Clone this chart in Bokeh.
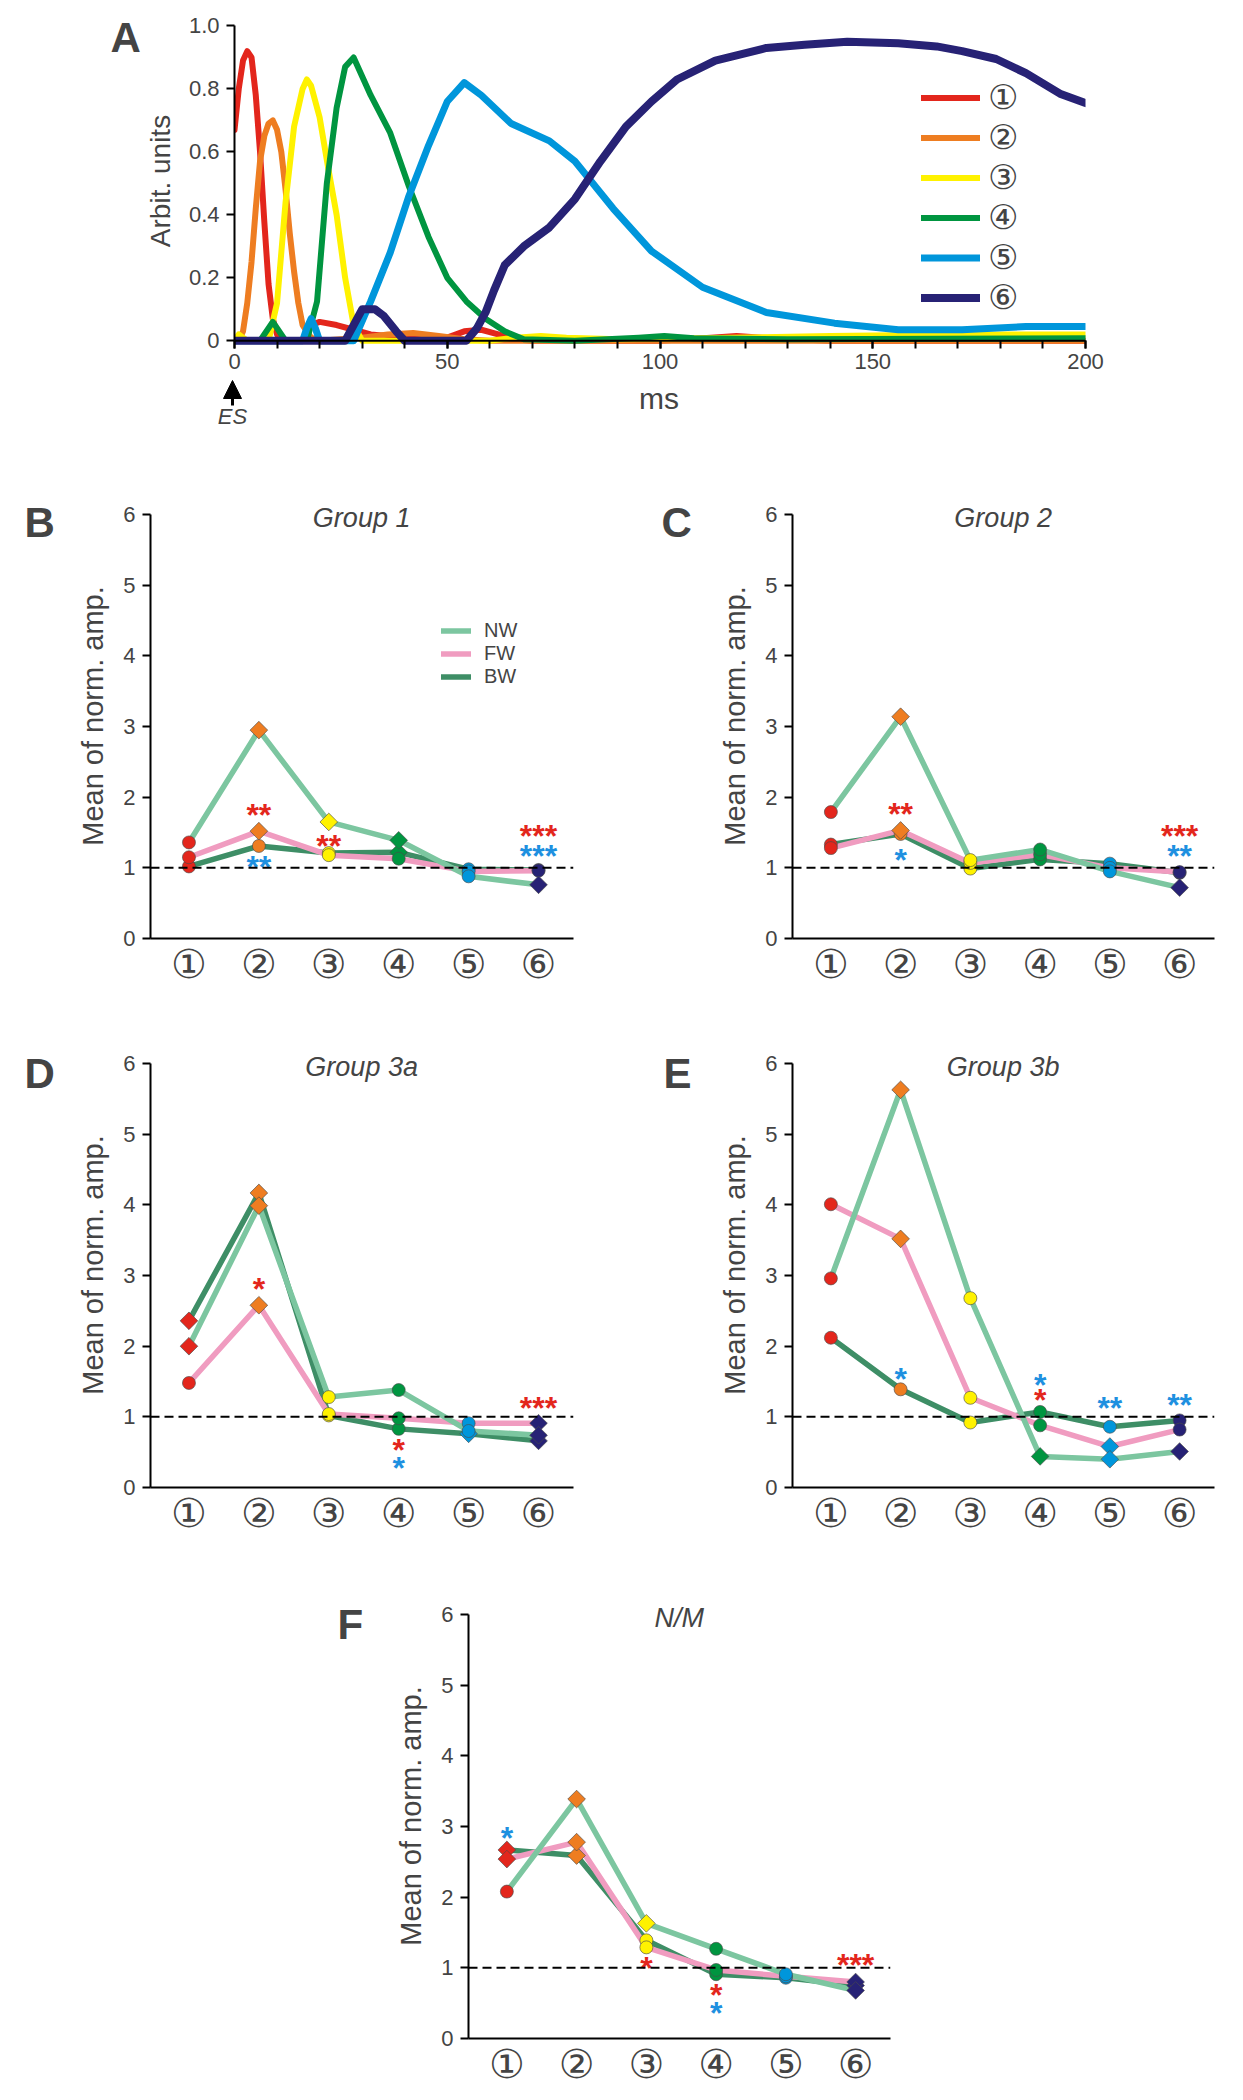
import numpy as np
from bokeh.plotting import figure
from bokeh.layouts import column, row
from bokeh.models import (Range1d, FixedTicker, Span, Label, Legend, LegendItem,
                          Arrow, NormalHead, ColumnDataSource)
from bokeh.embed import file_html
from bokeh.resources import INLINE
from bokeh.core.properties import value

FONT = "Liberation Sans"
CIRC_FONT = "DejaVu Sans"

# ---------------- Panel A: component time courses ----------------
comp_labels = ["①", "②", "③", "④", "⑤", "⑥"]
comp_colors = ["#E3261C", "#EE7D21", "#FFF200", "#009540", "#0096DB", "#272275"]
comp_widths = [6, 6, 6, 6, 7, 8]

t1 = [0, 1, 2, 3, 4, 5, 6, 7, 8, 9, 10, 12, 16, 18, 20, 24, 28, 32, 36, 40, 45, 50,
      54, 58, 62, 66, 70, 80, 100, 112, 118, 124, 140, 200]
v1 = [0.67, 0.80, 0.89, 0.92, 0.90, 0.78, 0.60, 0.38, 0.18, 0.07, 0.02, 0.0, 0.0, 0.05,
      0.06, 0.05, 0.035, 0.02, 0.015, 0.01, 0.005, 0.01, 0.03, 0.035, 0.02, 0.005, 0.0,
      0.0, 0.0, 0.01, 0.015, 0.01, 0.0, 0.0]

t2 = [0, 1, 2, 3, 4, 5, 6, 7, 8, 9, 10, 11, 12, 13, 14, 15, 16, 18, 20, 30, 36, 42,
      48, 54, 60, 200]
v2 = [0, 0, 0.03, 0.12, 0.25, 0.42, 0.57, 0.65, 0.69, 0.70, 0.67, 0.60, 0.48, 0.34,
      0.22, 0.12, 0.05, 0.01, 0, 0.01, 0.02, 0.025, 0.015, 0.005, 0, 0]

t3 = [0, 1, 2, 3, 8, 10, 12, 14, 16, 17, 18, 20, 22, 24, 26, 28, 30, 60, 66, 72, 78,
      90, 110, 140, 170, 200]
v3 = [0, 0.02, 0.01, 0, 0, 0.12, 0.44, 0.68, 0.80, 0.83, 0.81, 0.71, 0.55, 0.40, 0.20,
      0.05, 0, 0, 0.01, 0.015, 0.01, 0.005, 0.008, 0.015, 0.02, 0.02]

t4 = [0, 6, 8, 9, 10, 12, 17, 19.4, 21.7, 24, 26, 28, 32, 36.6, 41, 45.6, 50, 54.5,
      59, 63.5, 68, 80, 95, 101, 108, 130, 200]
v4 = [0, 0, 0.04, 0.06, 0.04, 0, 0, 0.125, 0.50, 0.74, 0.87, 0.90, 0.78, 0.66, 0.49,
      0.33, 0.20, 0.125, 0.07, 0.03, 0.005, 0, 0.01, 0.015, 0.008, 0.005, 0.008]

t5 = [0, 16, 17, 18, 19, 20, 28, 32, 36.6, 41, 45.6, 50, 54, 58, 65, 74, 80, 89, 98,
      110, 125, 141, 156, 171, 186, 200]
v5 = [0, 0, 0.04, 0.07, 0.04, 0, 0, 0.125, 0.28, 0.46, 0.62, 0.76, 0.82, 0.78, 0.69,
      0.635, 0.57, 0.42, 0.285, 0.17, 0.09, 0.056, 0.035, 0.035, 0.045, 0.045]

t6 = [0, 26, 28, 30, 33, 35, 38, 40, 54.5, 57, 59, 61, 63.5, 68, 74, 80, 86, 92, 98,
      104, 113, 125, 134, 144, 156, 165, 171, 179, 186, 194, 200]
v6 = [0, 0, 0.05, 0.10, 0.10, 0.08, 0.03, 0, 0, 0.04, 0.09, 0.16, 0.24, 0.30, 0.36,
      0.45, 0.57, 0.68, 0.76, 0.83, 0.89, 0.93, 0.94, 0.95, 0.945, 0.935, 0.92, 0.895,
      0.85, 0.785, 0.755]

a_xticks = [0, 50, 100, 150, 200]
a_minor = list(range(0, 201, 10))
a_yticks = [0, 0.2, 0.4, 0.6, 0.8, 1.0]
a_ylabels = {0: "0", 1: "1.0"}
stim_time = 0  # electrical stimulation onset (ms)

# ---------------- Panels B-F: mean normalised amplitude ----------------
categories = [1, 2, 3, 4, 5, 6]
series_names = ["NW", "FW", "BW"]
series_colors = {"NW": "#7CC6A0", "FW": "#F09CC0", "BW": "#3E8E66"}
yticks = [0, 1, 2, 3, 4, 5, 6]

# marker shapes: "o" circle, "d" diamond
g1_nw = [1.36, 2.95, 1.65, 1.39, 0.88, 0.76]; g1_nw_mk = ["o", "d", "d", "d", "o", "d"]
g1_fw = [1.15, 1.52, 1.18, 1.13, 0.95, 0.96]; g1_fw_mk = ["o", "d", "o", "o", "o", "o"]
g1_bw = [1.02, 1.31, 1.21, 1.22, 0.98, 0.97]; g1_bw_mk = ["o", "o", "o", "d", "o", "o"]
g1_star_cat = [2, 2, 3, 6, 6]
g1_star_y = [1.83, 1.10, 1.39, 1.54, 1.26]
g1_star_txt = ["**", "**", "**", "***", "***"]
g1_star_col = ["r", "b", "r", "r", "b"]

g2_nw = [1.79, 3.14, 1.11, 1.26, 0.95, 0.72]; g2_nw_mk = ["o", "d", "o", "o", "o", "d"]
g2_fw = [1.28, 1.53, 1.07, 1.19, 1.00, 0.94]; g2_fw_mk = ["o", "d", "o", "o", "o", "o"]
g2_bw = [1.33, 1.48, 0.99, 1.12, 1.06, 0.93]; g2_bw_mk = ["o", "o", "o", "o", "o", "o"]
g2_star_cat = [2, 2, 6, 6]
g2_star_y = [1.85, 1.20, 1.54, 1.25]
g2_star_txt = ["**", "*", "***", "**"]
g2_star_col = ["r", "b", "r", "b"]

g3a_nw = [2.00, 3.99, 1.28, 1.38, 0.80, 0.74]; g3a_nw_mk = ["d", "d", "o", "o", "o", "d"]
g3a_fw = [1.48, 2.58, 1.04, 0.98, 0.91, 0.91]; g3a_fw_mk = ["o", "d", "o", "o", "o", "d"]
g3a_bw = [2.36, 4.17, 1.02, 0.83, 0.76, 0.66]; g3a_bw_mk = ["d", "d", "o", "o", "d", "d"]
g3a_star_cat = [2, 4, 4, 6]
g3a_star_y = [2.89, 0.61, 0.36, 1.21]
g3a_star_txt = ["*", "*", "*", "***"]
g3a_star_col = ["r", "r", "b", "r"]

g3b_nw = [2.96, 5.63, 2.68, 0.44, 0.40, 0.51]; g3b_nw_mk = ["o", "d", "o", "d", "d", "d"]
g3b_fw = [4.01, 3.52, 1.27, 0.88, 0.58, 0.82]; g3b_fw_mk = ["o", "d", "o", "o", "d", "o"]
g3b_bw = [2.12, 1.39, 0.92, 1.07, 0.86, 0.95]; g3b_bw_mk = ["o", "o", "o", "o", "o", "o"]
g3b_star_cat = [2, 4, 4, 5, 6]
g3b_star_y = [1.62, 1.53, 1.32, 1.21, 1.26]
g3b_star_txt = ["*", "*", "*", "**", "**"]
g3b_star_col = ["b", "b", "r", "b", "b"]

nm_nw = [2.08, 3.39, 1.63, 1.27, 0.91, 0.68]; nm_nw_mk = ["o", "d", "d", "o", "o", "d"]
nm_fw = [2.54, 2.78, 1.29, 0.97, 0.88, 0.80]; nm_fw_mk = ["d", "d", "o", "o", "o", "d"]
nm_bw = [2.67, 2.59, 1.39, 0.91, 0.86, 0.75]; nm_bw_mk = ["d", "d", "o", "o", "o", "d"]
nm_star_cat = [1, 3, 4, 4, 6]
nm_star_y = [2.92, 1.08, 0.70, 0.44, 1.13]
nm_star_txt = ["*", "*", "*", "*", "***"]
nm_star_col = ["b", "r", "r", "b", "r"]

star_colors = {"r": "#E3261C", "b": "#1E90E0"}

# ---------------- page geometry (pixels) ----------------
PAGE_W = 1243
A_LETTER_W = 141            # strip holding the panel letter "A"
A_LEFT, A_RIGHT = 91, 158   # borders around the panel-A frame
A_TOP, A_BOTTOM = 16, 33
A_H = 378                   # height of the panel-A plot
STRIP_H = 72                # stimulus marker / x-label strip under panel A
A_FRAME_W = PAGE_W - A_LETTER_W - A_LEFT - A_RIGHT
A_X0 = A_LETTER_W + A_LEFT  # page x of t = 0 ms
PX_PER_MS = A_FRAME_W / 200.0
A_YR = (-0.015, 1.03)

PANEL_H = 550
CAT_RANGE = (0.45, 6.5)
Y_RANGE = (0, 6.3)


def style_common(p):
    p.outline_line_color = None
    p.grid.visible = False
    p.background_fill_color = "white"
    p.border_fill_color = "white"


def letter_fig(letter, width, height, xr, yr, x, y, top, bottom):
    p = figure(width=width, height=height, x_range=Range1d(*xr), y_range=Range1d(*yr),
               x_axis_type=None, y_axis_type=None, output_backend="svg", toolbar_location=None,
               min_border_left=0, min_border_right=0, min_border_top=top, min_border_bottom=bottom)
    style_common(p)
    p.add_layout(Label(x=x, y=y, text=letter, text_align="left", text_baseline="middle",
                       text_font=FONT, text_font_size="42px", text_font_style="bold"))
    return p


def build_panel_a():
    p = figure(width=PAGE_W - A_LETTER_W, height=A_H,
               x_range=Range1d(0, 200), y_range=Range1d(*A_YR),
               output_backend="svg", toolbar_location=None,
               min_border_left=A_LEFT, min_border_right=A_RIGHT,
               min_border_top=A_TOP, min_border_bottom=A_BOTTOM)
    style_common(p)
    rs = []
    for t, v, c, w in zip([t1, t2, t3, t4, t5, t6], [v1, v2, v3, v4, v5, v6], comp_colors, comp_widths):
        rs.append(p.line(t, v, line_color=c, line_width=w, line_cap="round", line_join="round"))

    # baseline at zero
    p.add_layout(Span(location=0, dimension="width", line_color="black", line_width=2))

    xa = p.xaxis[0]
    xa.ticker = FixedTicker(ticks=a_xticks, minor_ticks=a_minor)
    xa.axis_line_color = None
    xa.major_tick_line_width = 2
    xa.minor_tick_line_width = 2
    xa.major_tick_in = 5
    xa.major_tick_out = 3
    xa.minor_tick_in = 5
    xa.minor_tick_out = 3
    xa.minor_tick_line_color = "black"
    xa.major_label_standoff = 5
    xa.major_label_text_font = FONT
    xa.major_label_text_font_size = "22px"

    ya = p.yaxis[0]
    ya.bounds = (0, 1)
    ya.ticker = FixedTicker(ticks=a_yticks)
    ya.major_label_overrides = a_ylabels
    ya.axis_line_width = 2
    ya.major_tick_line_width = 2
    ya.major_tick_in = 0
    ya.major_tick_out = 8
    ya.minor_tick_line_color = None
    ya.major_label_standoff = 7
    ya.major_label_text_font = FONT
    ya.major_label_text_font_size = "22px"
    ya.axis_label = "Arbit. units"
    ya.axis_label_text_font = FONT
    ya.axis_label_text_font_size = "28px"
    ya.axis_label_text_font_style = "normal"
    ya.axis_label_standoff = 10

    leg = Legend(items=[LegendItem(label=lab, renderers=[r]) for lab, r in zip(comp_labels, rs)],
                 location=(687, 28), orientation="vertical", glyph_width=59, glyph_height=39,
                 label_height=39, spacing=0, padding=0, margin=0, label_standoff=8,
                 border_line_color=None, background_fill_alpha=0,
                 label_text_font=CIRC_FONT, label_text_font_size="34px")
    p.add_layout(leg)
    return p


def build_strip():
    # page-pixel y range, ms x range aligned with the panel-A frame
    p = figure(width=PAGE_W, height=STRIP_H,
               x_range=Range1d(-A_X0 / PX_PER_MS, (PAGE_W - A_X0) / PX_PER_MS),
               y_range=Range1d(A_H + STRIP_H, A_H),
               x_axis_type=None, y_axis_type=None, output_backend="svg", toolbar_location=None,
               min_border_left=0, min_border_right=0, min_border_top=0, min_border_bottom=0)
    style_common(p)
    p.add_layout(Arrow(end=NormalHead(size=18, fill_color="black", line_color="black"),
                       x_start=stim_time, y_start=405, x_end=stim_time, y_end=380,
                       line_width=3, line_color="black"))
    p.add_layout(Label(x=stim_time, y=416, text="ES", text_align="center", text_baseline="middle",
                       text_font=FONT, text_font_size="22px", text_font_style="italic"))
    p.add_layout(Label(x=100, y=398, text="ms", text_align="center", text_baseline="middle",
                       text_font=FONT, text_font_size="30px"))
    return p


def build_panel(title, data, stars, width, left, right, top, bottom, legend=False):
    p = figure(width=width, height=PANEL_H, x_range=Range1d(*CAT_RANGE), y_range=Range1d(*Y_RANGE),
               output_backend="svg", toolbar_location=None,
               min_border_left=left, min_border_right=right,
               min_border_top=top, min_border_bottom=bottom)
    style_common(p)

    p.add_layout(Span(location=1, dimension="width", line_color="black", line_width=2,
                      line_dash="9 5"))

    line_rs = {}
    for name in ["BW", "FW", "NW"]:
        vals, _ = data[name]
        line_rs[name] = p.line(categories, vals, line_color=series_colors[name], line_width=5.5,
                               line_join="round", line_cap="round")

    for name in ["BW", "FW", "NW"]:
        vals, shapes = data[name]
        src = ColumnDataSource(dict(
            x=categories, y=vals, color=comp_colors,
            marker=["square" if s == "d" else "circle" for s in shapes],
            angle=[np.pi / 4 if s == "d" else 0.0 for s in shapes],
            size=[12.5 if s == "d" else 13 for s in shapes],
        ))
        p.scatter(x="x", y="y", marker="marker", angle="angle", size="size", fill_color="color",
                  line_color="#4a4a4a", line_width=0.8, line_alpha=0.8, source=src)

    cats, ys, txts, cols = stars
    ssrc = ColumnDataSource(dict(x=cats, y=ys, text=txts, color=[star_colors[c] for c in cols]))
    p.text(x="x", y="y", text="text", text_color="color", source=ssrc,
           text_font=value(FONT), text_font_size="32px", text_font_style="bold",
           text_align="center", text_baseline="middle", y_offset=6)

    xa = p.xaxis[0]
    xa.ticker = FixedTicker(ticks=categories)
    xa.major_label_overrides = {c: lab for c, lab in zip(categories, comp_labels)}
    xa.axis_line_width = 2
    xa.major_tick_line_color = None
    xa.minor_tick_line_color = None
    xa.major_label_standoff = -4
    xa.major_label_text_font = CIRC_FONT
    xa.major_label_text_font_size = "40px"

    ya = p.yaxis[0]
    ya.bounds = (0, 6)
    ya.ticker = FixedTicker(ticks=yticks)
    ya.axis_line_width = 2
    ya.major_tick_line_width = 2
    ya.major_tick_in = 0
    ya.major_tick_out = 8
    ya.minor_tick_line_color = None
    ya.major_label_standoff = 7
    ya.major_label_text_font = FONT
    ya.major_label_text_font_size = "22px"
    ya.axis_label = "Mean of norm. amp."
    ya.axis_label_text_font = FONT
    ya.axis_label_text_font_size = "29px"
    ya.axis_label_text_font_style = "normal"
    ya.axis_label_standoff = 11

    p.add_layout(Label(x=3.47, y=5.95, text=title, text_align="center", text_baseline="middle",
                       text_font=FONT, text_font_size="27px", text_font_style="italic"))

    if legend:
        leg = Legend(items=[LegendItem(label=n, renderers=[line_rs[n]]) for n in series_names],
                     location=(291, 250), orientation="vertical", glyph_width=30, glyph_height=21,
                     label_height=21, spacing=0, padding=0, margin=0, label_standoff=13,
                     border_line_color=None, background_fill_alpha=0,
                     label_text_font=FONT, label_text_font_size="20px")
        p.add_layout(leg)
    return p


pA = build_panel_a()
lA = letter_fig("A", A_LETTER_W, A_H, (0, A_LETTER_W), A_YR, 110, 0.962, A_TOP, A_BOTTOM)
strip = build_strip()

pB = build_panel("Group 1",
                 {"NW": (g1_nw, g1_nw_mk), "FW": (g1_fw, g1_fw_mk), "BW": (g1_bw, g1_bw_mk)},
                 (g1_star_cat, g1_star_y, g1_star_txt, g1_star_col),
                 566, 74, 67, 43, 62, legend=True)
lB = letter_fig("B", 74, PANEL_H, (0, 74), Y_RANGE, 24, 5.887, 43, 62)
pC = build_panel("Group 2",
                 {"NW": (g2_nw, g2_nw_mk), "FW": (g2_fw, g2_fw_mk), "BW": (g2_bw, g2_bw_mk)},
                 (g2_star_cat, g2_star_y, g2_star_txt, g2_star_col),
                 527, 73, 29, 43, 62)
lC = letter_fig("C", 76, PANEL_H, (0, 76), Y_RANGE, 21, 5.887, 43, 62)

pD = build_panel("Group 3a",
                 {"NW": (g3a_nw, g3a_nw_mk), "FW": (g3a_fw, g3a_fw_mk), "BW": (g3a_bw, g3a_bw_mk)},
                 (g3a_star_cat, g3a_star_y, g3a_star_txt, g3a_star_col),
                 566, 74, 67, 42, 63)
lD = letter_fig("D", 74, PANEL_H, (0, 74), Y_RANGE, 24, 5.858, 42, 63)
pE = build_panel("Group 3b",
                 {"NW": (g3b_nw, g3b_nw_mk), "FW": (g3b_fw, g3b_fw_mk), "BW": (g3b_bw, g3b_bw_mk)},
                 (g3b_star_cat, g3b_star_y, g3b_star_txt, g3b_star_col),
                 527, 73, 29, 42, 63)
lE = letter_fig("E", 76, PANEL_H, (0, 76), Y_RANGE, 23, 5.858, 42, 63)

pF = build_panel("N/M",
                 {"NW": (nm_nw, nm_nw_mk), "FW": (nm_fw, nm_fw_mk), "BW": (nm_bw, nm_bw_mk)},
                 (nm_star_cat, nm_star_y, nm_star_txt, nm_star_col),
                 851, 73, 353, 43, 62)
lF = letter_fig("F", 392, PANEL_H, (0, 392), Y_RANGE, 337, 5.858, 43, 62)

layout = column(row(lA, pA), strip, row(lB, pB, lC, pC), row(lD, pD, lE, pE), row(lF, pF))

with open("out.html", "w") as f:
    f.write(file_html(layout, INLINE))
